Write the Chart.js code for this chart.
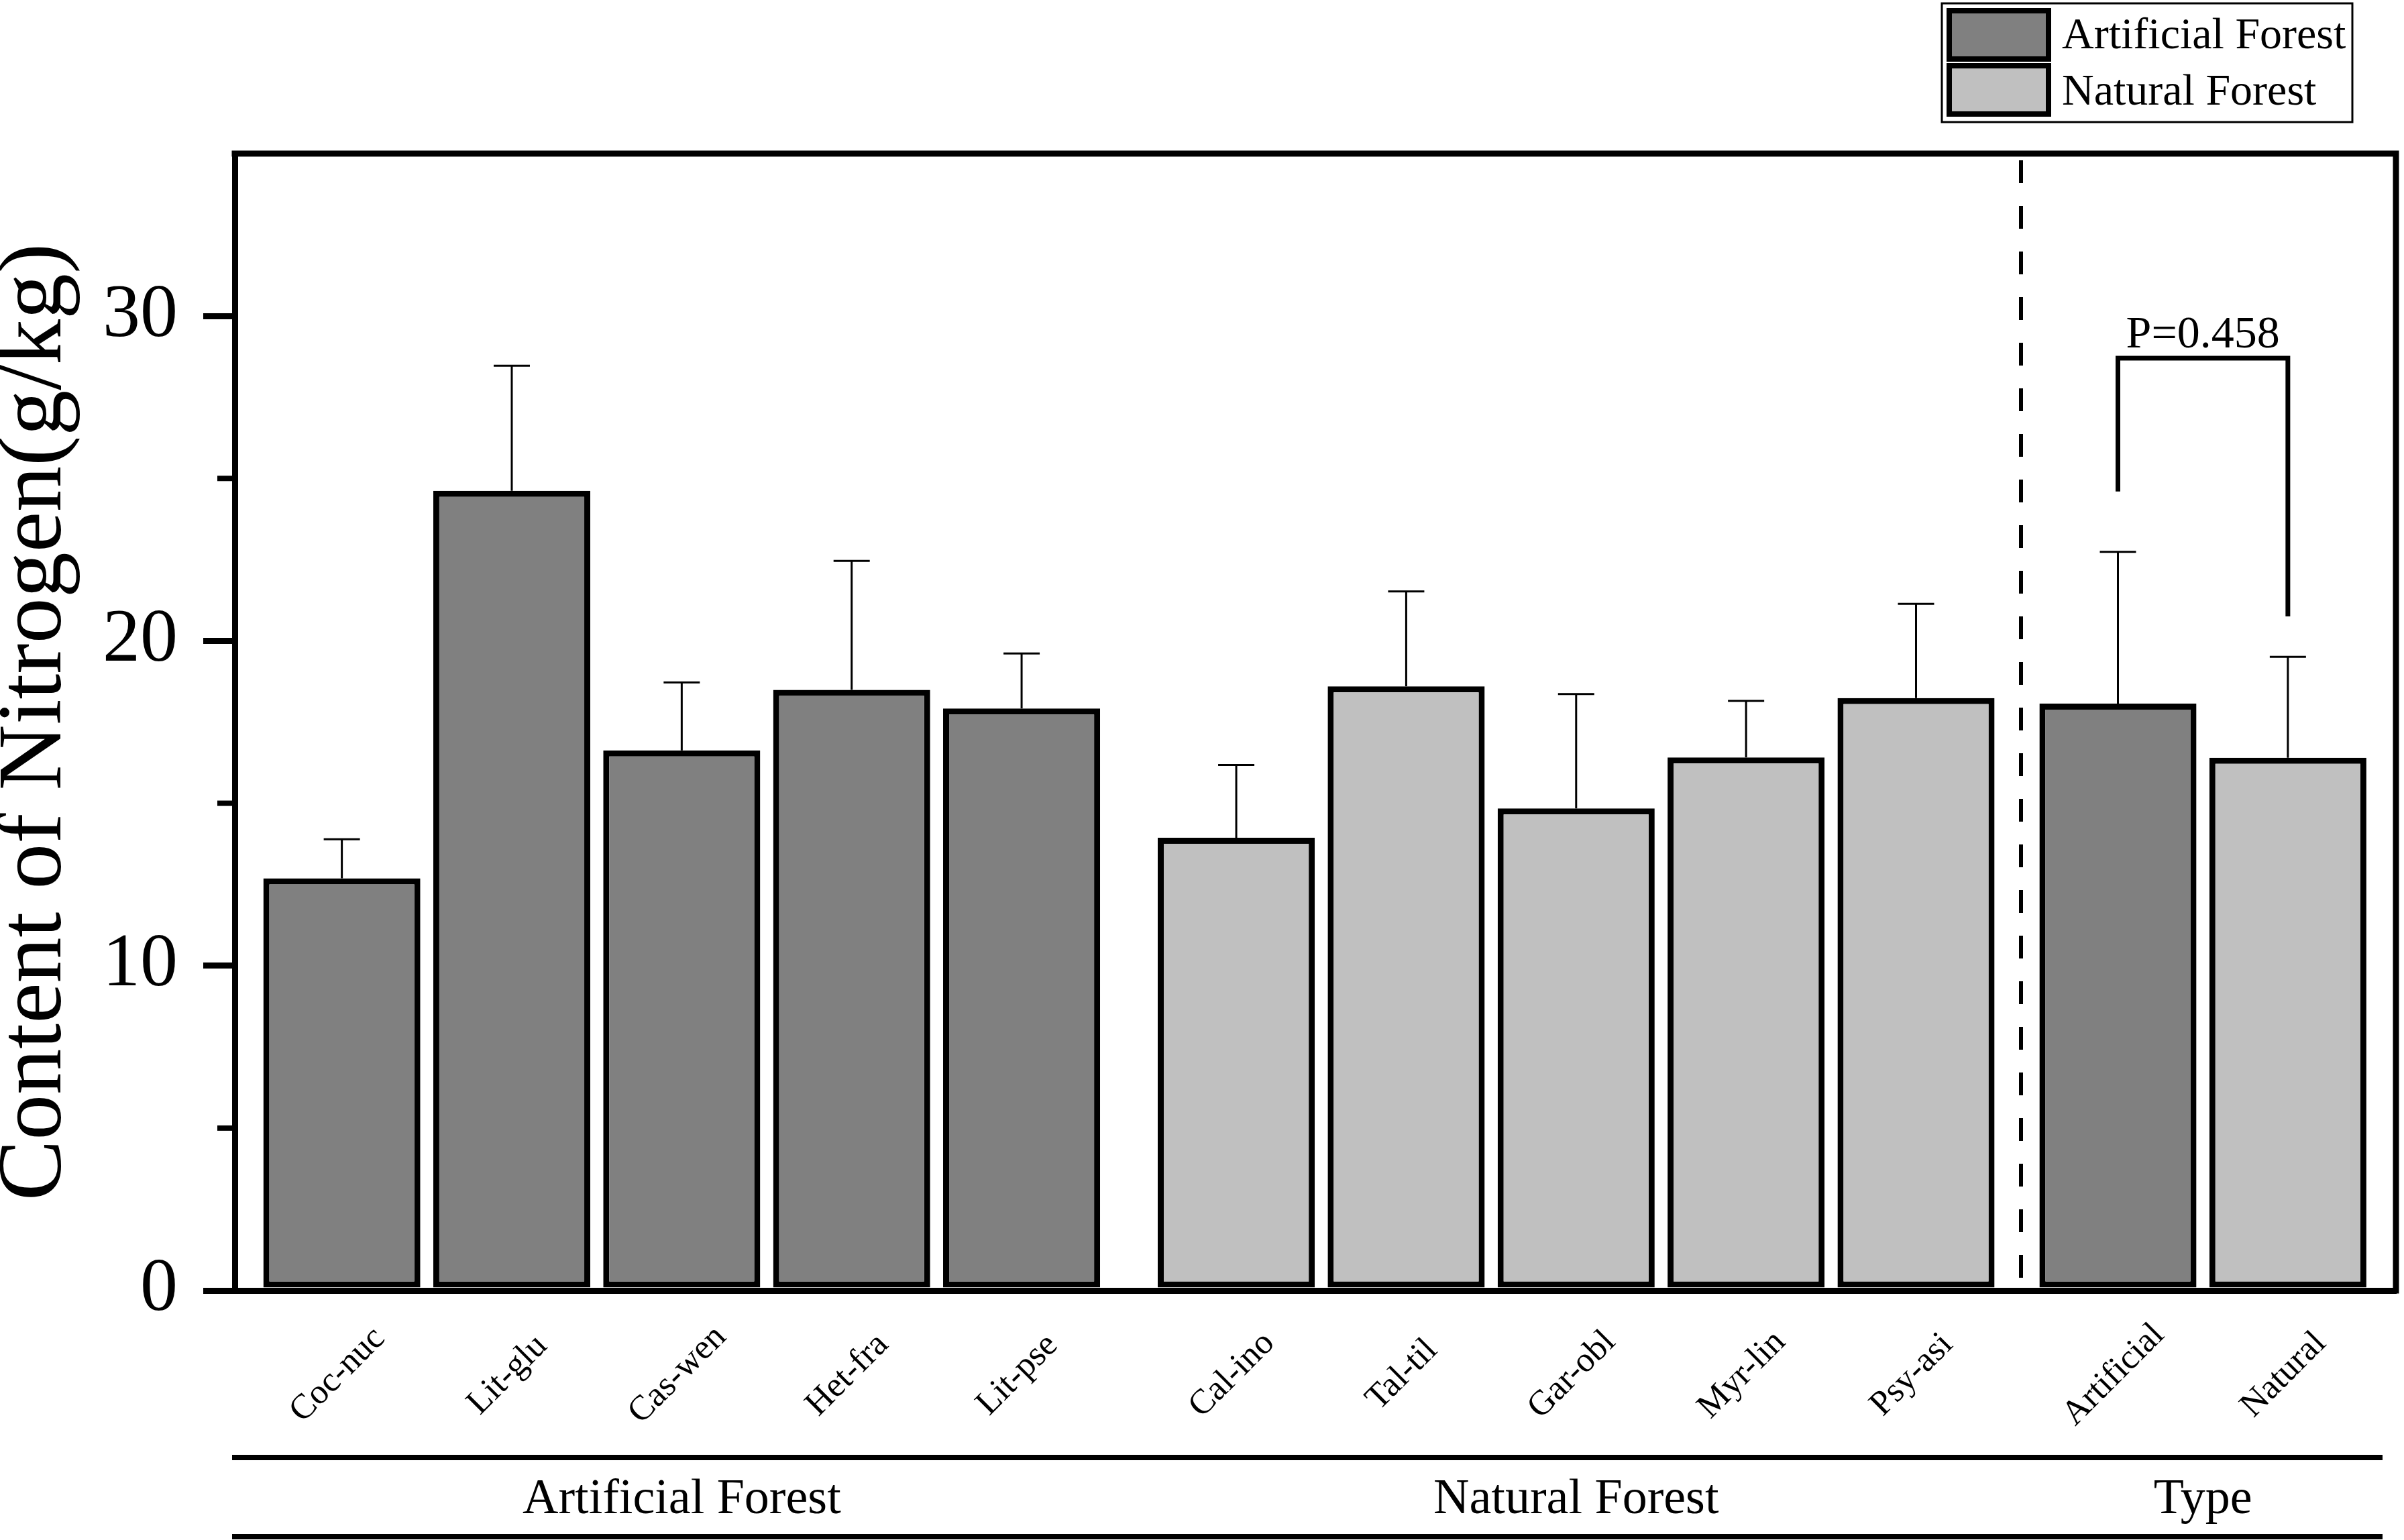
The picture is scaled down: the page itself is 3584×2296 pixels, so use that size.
<!DOCTYPE html>
<html>
<head>
<meta charset="utf-8">
<title>Content of Nitrogen</title>
<script src="https://cdn.jsdelivr.net/npm/chart.js@4.4.1/dist/chart.umd.min.js"></script>
<style>
  html, body { margin: 0; padding: 0; background: #fff; overflow: hidden; }
  #chart { display: block; }
</style>
</head>
<body>
<canvas id="chart" width="3584" height="2296"></canvas>
<script>
// ---------- Data ----------
const species = ["Coc-nuc", "Lit-glu", "Cas-wen", "Het-fra", "Lit-pse",
  "Cal-ino", "Tal-til", "Gar-obl", "Myr-lin", "Psy-asi", "Artificial", "Natural"];
const forestType = ["Artificial Forest", "Artificial Forest", "Artificial Forest",
  "Artificial Forest", "Artificial Forest", "Natural Forest", "Natural Forest",
  "Natural Forest", "Natural Forest", "Natural Forest", "Artificial Forest", "Natural Forest"];
const groupNames = ["Artificial Forest", "Natural Forest", "Type"];
const groupOf = [0, 0, 0, 0, 0, 1, 1, 1, 1, 1, 2, 2];
const meanN = [12.69, 24.62, 16.63, 18.49, 17.92, 13.94, 18.6, 14.84, 16.41, 18.24, 18.07, 16.4];
const sdN = [1.2, 3.85, 2.09, 3.97, 1.69, 2.24, 2.92, 3.52, 1.74, 2.9, 4.67, 3.11];
const yTicks = [0, 10, 20, 30];
const yMinor = [5, 15, 25];
const pText = "P=0.458";

// ---------- Layout / style ----------
function $(id) {
  return document.getElementById(id);
}
const W = 3584, H = 2296;
const FONT = "'Liberation Serif', 'Times New Roman', serif";
const colors = { "Artificial Forest": "#808080", "Natural Forest": "#c0c0c0" };
const groupShift = [0, 0.263, 0.451]; // extra space before each group
const pos = species.map((_, i) => i + groupShift[groupOf[i]]);
const bracket = { top: 28.7, left: 24.6, right: 20.75 };

// ---------- Datasets ----------
const datasets = Object.keys(colors).map((label) => ({
  label,
  data: species
    .map((s, i) => ({ x: pos[i], y: meanN[i], i }))
    .filter((d) => forestType[d.i] === label),
  backgroundColor: colors[label],
  borderColor: "#000",
  borderWidth: 9,
  borderSkipped: false,
  grouped: false,
  barPercentage: 0.924,
  categoryPercentage: 1,
}));

// ---------- Error bars ----------
const errorBars = {
  id: "errorBars",
  afterDatasetsDraw(chart) {
    const { ctx, scales: { y } } = chart;
    ctx.save();
    ctx.strokeStyle = "#000";
    ctx.lineWidth = 3;
    chart.data.datasets.forEach((ds, di) => {
      chart.getDatasetMeta(di).data.forEach((bar, j) => {
        const i = ds.data[j].i;
        const top = y.getPixelForValue(meanN[i] + sdN[i]);
        ctx.beginPath();
        ctx.moveTo(bar.x, bar.y);
        ctx.lineTo(bar.x, top);
        ctx.moveTo(bar.x - 27, top);
        ctx.lineTo(bar.x + 27, top);
        ctx.stroke();
      });
    });
    ctx.restore();
  },
};

// ---------- Frame, labels, legend ----------
const decor = {
  id: "decor",
  afterDraw(chart) {
    const { ctx, chartArea: a, scales: { x, y } } = chart;
    ctx.save();
    ctx.strokeStyle = "#000";
    ctx.fillStyle = "#000";

    // top + right frame
    ctx.lineWidth = 9;
    ctx.lineCap = "square";
    ctx.beginPath();
    ctx.moveTo(a.left, a.top);
    ctx.lineTo(a.right, a.top);
    ctx.lineTo(a.right, a.bottom);
    ctx.stroke();
    ctx.lineCap = "butt";

    // minor y ticks
    ctx.lineWidth = 8;
    yMinor.forEach((v) => {
      const py = y.getPixelForValue(v);
      ctx.beginPath();
      ctx.moveTo(a.left - 26, py);
      ctx.lineTo(a.left, py);
      ctx.stroke();
    });

    // dashed divider before "Type"
    const dx = (x.getPixelForValue(pos[9]) + x.getPixelForValue(pos[10])) / 2 + 6;
    ctx.lineWidth = 6;
    ctx.setLineDash([34, 34]);
    ctx.beginPath();
    ctx.moveTo(dx, a.top + 10);
    ctx.lineTo(dx, a.bottom);
    ctx.stroke();
    ctx.setLineDash([]);

    // significance bracket
    const xl = x.getPixelForValue(pos[10]);
    const xr = x.getPixelForValue(pos[11]);
    const yt = y.getPixelForValue(bracket.top);
    ctx.lineWidth = 7;
    ctx.lineJoin = "miter";
    ctx.beginPath();
    ctx.moveTo(xl, y.getPixelForValue(bracket.left));
    ctx.lineTo(xl, yt);
    ctx.lineTo(xr, yt);
    ctx.lineTo(xr, y.getPixelForValue(bracket.right));
    ctx.stroke();
    ctx.font = "68px " + FONT;
    ctx.textAlign = "center";
    ctx.textBaseline = "alphabetic";
    ctx.fillText(pText, (xl + xr) / 2, yt - 16);

    // rotated category labels
    ctx.font = "52px " + FONT;
    ctx.textBaseline = "middle";
    species.forEach((s, i) => {
      ctx.save();
      ctx.translate(x.getPixelForValue(pos[i]) - 6, 2050);
      ctx.rotate(-Math.PI / 4);
      ctx.fillText(s, 0, 0);
      ctx.restore();
    });

    // group lines + names
    ctx.lineWidth = 8;
    [2173, 2291].forEach((ly) => {
      ctx.beginPath();
      ctx.moveTo(a.left - 4, ly);
      ctx.lineTo(a.right - 20, ly);
      ctx.stroke();
    });
    ctx.font = "74px " + FONT;
    ctx.textBaseline = "alphabetic";
    groupNames.forEach((g, gi) => {
      const idx = pos.filter((_, i) => groupOf[i] === gi);
      const cx = (x.getPixelForValue(idx[0]) + x.getPixelForValue(idx[idx.length - 1])) / 2;
      ctx.fillText(g, cx, 2256);
    });

    // legend
    ctx.lineWidth = 3;
    ctx.strokeRect(2895, 5, 612, 177);
    ctx.font = "66px " + FONT;
    ctx.textAlign = "left";
    chart.data.datasets.forEach((ds, k) => {
      const top = k === 0 ? 16 : 98;
      ctx.fillStyle = ds.backgroundColor;
      ctx.fillRect(2906, top, 148, 72);
      ctx.lineWidth = 8;
      ctx.strokeRect(2906, top, 148, 72);
      ctx.fillStyle = "#000";
      ctx.fillText(ds.label, 3074, k === 0 ? 72 : 156);
    });
    ctx.restore();
  },
};

// ---------- Chart ----------
new Chart($("chart"), {
  type: "bar",
  data: { datasets },
  options: {
    responsive: false,
    animation: false,
    devicePixelRatio: 1,
    layout: { padding: { top: 229, right: 12, left: 0, bottom: 0 } },
    plugins: { legend: { display: false }, tooltip: { enabled: false } },
    scales: {
      x: {
        type: "linear",
        offset: false,
        min: pos[0] - 0.63,
        max: pos[pos.length - 1] + 0.636,
        afterBuildTicks: (s) => {
          s.ticks = pos.map((v) => ({ value: v }));
        },
        afterFit: (s) => {
          s.height = 372;
        },
        ticks: { display: false },
        grid: { display: false, offset: false },
        border: { display: true, color: "#000", width: 9 },
      },
      y: {
        min: 0,
        max: 35,
        afterBuildTicks: (s) => {
          s.ticks = yTicks.map((v) => ({ value: v }));
        },
        afterFit: (s) => {
          s.width = 350;
        },
        ticks: { color: "#000", font: { family: FONT, size: 112 }, padding: 38 },
        grid: {
          drawOnChartArea: false,
          tickLength: 47,
          lineWidth: 9,
          tickWidth: 9,
          tickColor: "#000",
        },
        border: { color: "#000", width: 9 },
        title: {
          display: true,
          text: "Content of Nitrogen(g/kg)",
          color: "#000",
          font: { family: FONT, size: 136, lineHeight: 0.8 },
          padding: 0,
        },
      },
    },
  },
  plugins: [errorBars, decor],
});
</script>
</body>
</html>
